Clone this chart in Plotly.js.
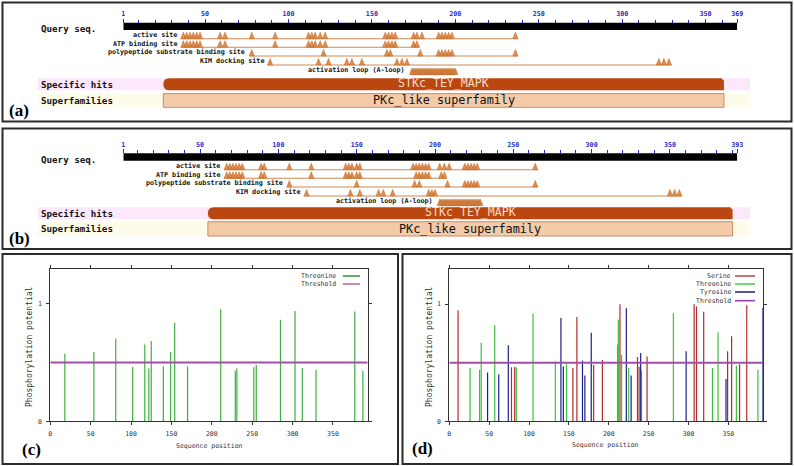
<!DOCTYPE html>
<html><head><meta charset="utf-8">
<script src="https://cdn.plot.ly/plotly-3.0.1.min.js"></script>
<style>html,body{margin:0;padding:0;background:#fff;} #chart{width:794px;height:466px;}</style>
</head><body><div id="chart"></div>
<script>
// ================= DATA =================
// Panel (a) – conserved domain diagram, 369 aa query
const seqLenA = 369;
const rulerLabelsA = [1, 50, 100, 150, 200, 250, 300, 350, 369];
const featureNames = ['active site', 'ATP binding site', 'polypeptide substrate binding site', 'KIM docking site', 'activation loop (A-loop)'];
const activeSiteA = [37, 39, 41, 43, 45, 47, 59, 62, 78, 92, 112, 114, 116, 119, 122, 158, 160, 162, 164, 175, 177, 180, 190, 192, 194, 196, 198, 236];
const atpSiteA = [37, 39, 41, 43, 45, 47, 59, 62, 92, 112, 114, 116, 119, 122, 158, 160, 162, 164, 175, 177];
const substrateSiteA = [78, 121, 159, 161, 179, 190, 192, 194, 196, 198, 236];
const kimSiteA = [89, 118, 124, 135, 138, 144, 165, 168, 171, 322, 325, 328];
const aLoopA = [174, 175, 176, 177, 178, 179, 180, 181, 182, 183, 184, 185, 186, 187, 188, 189, 190, 191, 192, 193, 194, 195, 196, 197, 198, 199, 200];
const specificHitA = [25, 361];
const superfamilyA = [25, 361];

// Panel (b) – conserved domain diagram, 393 aa query
const seqLenB = 393;
const rulerLabelsB = [1, 50, 100, 150, 200, 250, 300, 350, 393];
const activeSiteB = [67, 69, 71, 73, 75, 77, 89, 91, 107, 121, 143, 145, 147, 150, 152, 186, 188, 190, 192, 194, 196, 203, 206, 209, 219, 221, 223, 225, 227, 264];
const atpSiteB = [67, 69, 71, 73, 75, 77, 89, 91, 121, 143, 145, 147, 150, 152, 188, 190, 192, 194, 196, 204, 206];
const substrateSiteB = [107, 150, 187, 190, 208, 219, 221, 223, 225, 227, 264];
const kimSiteB = [118, 146, 152, 164, 167, 173, 196, 198, 200, 350, 353, 356];
const aLoopB = [203, 204, 205, 206, 207, 208, 209, 210, 211, 212, 213, 214, 215, 216, 217, 218, 219, 220, 221, 222, 223, 224, 225, 226, 227, 228, 229];
const specificHitB = [55, 390];
const superfamilyB = [55, 390];

const specificHitName = 'STKc_TEY_MAPK';
const superfamilyName = 'PKc_like superfamily';

// Panel (c) – NetPhos, threonine only
const seqLenC = 393;
const thresholdC = 0.5;
const thrPosC   = [18, 54, 81, 102, 117, 122, 125, 140, 149, 154, 170, 211, 229, 231, 252, 255, 285, 303, 312, 329, 377, 387];
const thrScoreC = [0.575, 0.59, 0.706, 0.464, 0.655, 0.45, 0.684, 0.47, 0.59, 0.84, 0.47, 0.954, 0.43, 0.45, 0.46, 0.48, 0.866, 0.94, 0.455, 0.44, 0.935, 0.43];

// Panel (d) – NetPhos, serine / threonine / tyrosine
const seqLenD = 393;
const thresholdD = 0.5;
const serPosD   = [11, 78, 82, 155, 160, 181, 192, 214, 236, 238, 248, 307, 310, 319, 349, 354, 364, 373];
const serScoreD = [0.948, 0.462, 0.465, 0.454, 0.89, 0.48, 0.523, 1.0, 0.548, 0.465, 0.554, 1.0, 0.98, 0.936, 0.597, 0.727, 0.488, 0.99];
const thrPosD   = [26, 38, 40, 57, 84, 105, 133, 147, 211, 212, 216, 225, 241, 281, 330, 337, 360, 387];
const thrScoreD = [0.454, 0.44, 0.669, 0.819, 0.459, 0.919, 0.511, 0.488, 0.655, 0.87, 0.569, 0.454, 0.434, 0.922, 0.454, 0.761, 0.477, 0.44];
const tyrPosD   = [48, 62, 74, 140, 143, 167, 170, 178, 222, 228, 240, 297, 347, 393];
const tyrScoreD = [0.416, 0.399, 0.649, 0.882, 0.468, 0.52, 0.39, 0.755, 0.965, 0.39, 0.583, 0.597, 0.362, 0.97];

// ================= LAYOUT HELPERS =================
const W = 794, H = 466;
const fx = p => p / W;
const fy = p => 1 - p / H;
const MONO = 'DejaVu Sans Mono';
const BLUE = '#2424c8';

const traces = [], shapes = [], annotations = [];

function paperText(text, x, y, opts) {
  annotations.push(Object.assign({
    xref: 'paper', yref: 'paper', x: fx(x), y: fy(y), text: text, showarrow: false,
    xanchor: 'left', yanchor: 'middle', font: {family: MONO, size: 9, color: '#111'}
  }, opts || {}));
}

// ---------- domain diagrams ----------
const domX0 = 123.3, domX1 = 737.3;
function diagram(d) {
  const upp = (d.len - 1) / (domX1 - domX0);
  const hw = 2.6 * upp;
  shapes.push({type: 'rect', xref: 'paper', yref: 'paper', x0: fx(38), x1: fx(750), y0: fy(d.hitBand[0]), y1: fy(d.hitBand[1]), fillcolor: '#fde8fb', line: {width: 0}, layer: 'below'});
  shapes.push({type: 'rect', xref: 'paper', yref: 'paper', x0: fx(38), x1: fx(750), y0: fy(d.supBand[0]), y1: fy(d.supBand[1]), fillcolor: '#fefce9', line: {width: 0}, layer: 'below'});
  shapes.push({type: 'rect', xref: d.xa, yref: 'y', x0: 1, x1: d.len, y0: d.rulerY, y1: d.barBot, fillcolor: '#000', line: {width: 0}});
  paperText('<b>Query seq.</b>', 39, d.queryY, {font: {family: MONO, size: 9.2, color: '#111'}});
  d.rows.forEach((sites, i) => {
    const ty = d.rowY[i];
    const base = ty + (i === 4 ? 4.6 : 3.7);
    const lo = Math.min(...sites) - hw, hi = Math.max(...sites) + hw;
    if (i < 4) {
      traces.push({type: 'scatter', mode: 'lines', x: [lo, hi], y: [base, base], xaxis: d.xa, yaxis: 'y',
        line: {color: '#d08a55', width: 1.1}, hoverinfo: 'skip', showlegend: false});
    }
    const tx = [], tyy = [];
    sites.forEach(p => { tx.push(p - hw, p, p + hw, p - hw, null); tyy.push(base, base - 6.5, base, base, null); });
    traces.push({type: 'scatter', mode: 'lines', x: tx, y: tyy, xaxis: d.xa, yaxis: 'y', fill: 'toself',
      fillcolor: '#e08c4a', line: {color: '#c0682a', width: 0.5}, hoverinfo: 'skip', showlegend: false, connectgaps: false});
    annotations.push({xref: d.xa, yref: 'y', x: lo, y: ty, text: '<b>' + featureNames[i] + '</b>', showarrow: false,
      xanchor: 'right', yanchor: 'middle', xshift: -2, font: {family: MONO, size: 6.7, color: '#111'}});
  });
  const h0 = d.hit[0], h1 = d.hit[1];
  const yT = d.hitBand[0], yB = d.hitBand[1], yM = (yT + yB) / 2;
  const r = 6 * upp, c = 2.5 * upp;
  shapes.push({type: 'path', xref: d.xa, yref: 'y',
    path: `M${h0 + r},${yT} L${h1 - c},${yT} L${h1},${yT + 2.5} L${h1},${yB} L${h0 + r},${yB} Q${h0},${yB} ${h0},${yM} Q${h0},${yT} ${h0 + r},${yT} Z`,
    fillcolor: '#b9470f', line: {width: 0}});
  annotations.push({xref: d.xa, yref: 'y', x: (h0 + h1) / 2, y: yM, yshift: 1, text: specificHitName, showarrow: false,
    xanchor: 'center', yanchor: 'middle', font: {family: MONO, size: 11.6, color: '#f8dcc6'}});
  paperText('<b>Specific hits</b>', 39, yM, {font: {family: MONO, size: 9.2, color: '#111'}});
  const s0 = d.sup[0], s1 = d.sup[1];
  shapes.push({type: 'rect', xref: d.xa, yref: 'y', x0: s0, x1: s1, y0: d.supBand[0], y1: d.supBand[1],
    fillcolor: '#f3cba8', line: {color: '#d18a5e', width: 1}});
  annotations.push({xref: d.xa, yref: 'y', x: (s0 + s1) / 2, y: (d.supBand[0] + d.supBand[1]) / 2, text: superfamilyName, showarrow: false,
    xanchor: 'center', yanchor: 'middle', font: {family: MONO, size: 11.8, color: '#111'}});
  paperText('<b>Superfamilies</b>', 39, (d.supBand[0] + d.supBand[1]) / 2, {font: {family: MONO, size: 9.2, color: '#111'}});
}

function rulerAxis(len, labels, rulerY) {
  return {
    domain: [fx(domX0), fx(domX1)], range: [1, len], autorange: false, anchor: 'free', position: fy(rulerY), side: 'top',
    showgrid: false, zeroline: false, showline: false, fixedrange: true,
    ticks: 'outside', ticklen: 4, tickwidth: 1, tickcolor: BLUE,
    tickmode: 'array', tickvals: labels, ticktext: labels.map(String),
    tickfont: {family: MONO, size: 6.7, color: BLUE, weight: 'bold'},
    minor: {tickmode: 'linear', tick0: 0, dtick: 10, ticks: 'outside', ticklen: 3, tickwidth: 1, tickcolor: BLUE}
  };
}

diagram({xa: 'x', len: seqLenA, rulerY: 22.7, barBot: 30, queryY: 28.3,
  rows: [activeSiteA, atpSiteA, substrateSiteA, kimSiteA, aLoopA], rowY: [35, 43.5, 52.3, 61.3, 70],
  hit: specificHitA, sup: superfamilyA, hitBand: [78.3, 90.3], supBand: [93.6, 107.3]});
diagram({xa: 'x2', len: seqLenB, rulerY: 153.3, barBot: 160.7, queryY: 159,
  rows: [activeSiteB, atpSiteB, substrateSiteB, kimSiteB, aLoopB], rowY: [166, 174.5, 183.3, 192.3, 201],
  hit: specificHitB, sup: superfamilyB, hitBand: [207.3, 219.3], supBand: [221.7, 236]});

// ---------- phosphorylation plots ----------
function impulses(pos, score, xa, ya, color) {
  const x = [], y = [];
  pos.forEach((p, i) => { x.push(p, p, null); y.push(0, score[i], null); });
  traces.push({type: 'scatter', mode: 'lines', x, y, xaxis: xa, yaxis: ya, line: {color, width: 1.2},
    connectgaps: false, hoverinfo: 'skip', showlegend: false});
}
function thresholdLine(len, thr, xa, ya) {
  traces.push({type: 'scatter', mode: 'lines', x: [0, len], y: [thr, thr], xaxis: xa, yaxis: ya,
    line: {color: '#a24ea8', width: 2}, hoverinfo: 'skip', showlegend: false});
}
const GREEN_C = '#3fae3f', GREEN_D = '#3cc03c', RED = '#b32b2b', NAVY = '#1e1e86';

impulses(thrPosC, thrScoreC, 'x3', 'y3', GREEN_C);
thresholdLine(seqLenC, thresholdC, 'x3', 'y3');
impulses(thrPosD, thrScoreD, 'x4', 'y4', GREEN_D);
impulses(tyrPosD, tyrScoreD, 'x4', 'y4', NAVY);
impulses(serPosD, serScoreD, 'x4', 'y4', RED);
thresholdLine(seqLenD, thresholdD, 'x4', 'y4');

function phosX(x0, x1, len, ya) {
  return {domain: [fx(x0), fx(x1)], range: [0, len], autorange: false, anchor: ya,
    showgrid: false, zeroline: false, showline: true, linecolor: '#333', linewidth: 1, mirror: 'ticks',
    ticks: 'outside', ticklen: 3, tickcolor: '#333', tickmode: 'linear', tick0: 0, dtick: 50,
    tickfont: {family: MONO, size: 6.5, color: '#333'}, ticklabelstandoff: 3, fixedrange: true};
}
function phosY(yTop, yBot, xa) {
  return {domain: [fy(yBot), fy(yTop)], range: [0, 1.3], autorange: false, anchor: xa,
    showgrid: false, zeroline: false, showline: true, linecolor: '#333', linewidth: 1, mirror: 'ticks',
    ticks: 'outside', ticklen: 3, tickcolor: '#333', tickmode: 'array', tickvals: [0, 1], ticktext: ['0', '1'],
    tickfont: {family: MONO, size: 6.5, color: '#333'}, ticklabelstandoff: 3, fixedrange: true};
}

paperText('Sequence position', 209.3, 446, {xanchor: 'center', font: {family: MONO, size: 6.5, color: '#333'}});
paperText('Sequence position', 605, 445, {xanchor: 'center', font: {family: MONO, size: 6.5, color: '#333'}});
paperText('Phosphorylation potential', 29.3, 346.7, {xanchor: 'center', textangle: -90, font: {family: MONO, size: 8, color: '#333'}});
paperText('Phosphorylation potential', 429.3, 346.7, {xanchor: 'center', textangle: -90, font: {family: MONO, size: 8, color: '#333'}});

function legendEntry(label, xTextEnd, xl0, xl1, y, color, width) {
  paperText(label, xTextEnd, y, {xanchor: 'right', font: {family: MONO, size: 6.5, color: '#333'}});
  shapes.push({type: 'line', xref: 'paper', yref: 'paper', x0: fx(xl0), x1: fx(xl1), y0: fy(y), y1: fy(y), line: {color, width}});
}
legendEntry('Threonine', 337.7, 342.7, 360, 276, '#3a9e3a', 1.6);
legendEntry('Threshold', 337.7, 342.7, 360, 284, '#b070b4', 1.6);
legendEntry('Serine', 732.7, 735, 755, 276, '#b84c4c', 1.6);
legendEntry('Threonine', 732.7, 735, 755, 284, '#4fd04f', 1.6);
legendEntry('Tyrosine', 732.7, 735, 755, 292, '#2a2a80', 1.6);
legendEntry('Threshold', 732.7, 735, 755, 300.7, '#a040a8', 1.6);

function frame(x0, y0, x1, y1) {
  shapes.push({type: 'rect', xref: 'paper', yref: 'paper', x0: fx(x0), x1: fx(x1), y0: fy(y1), y1: fy(y0),
    line: {color: '#2b2b2b', width: 2}, fillcolor: 'rgba(0,0,0,0)'});
}
frame(2.5, 2.5, 791.5, 121.5);
frame(2.5, 128.5, 791.5, 249);
frame(2.5, 254, 398, 464);
frame(402.5, 254, 791.5, 464);
const letterFont = {family: 'Liberation Serif', size: 17, color: '#000'};
paperText('<b>(a)</b>', 7, 110, {font: letterFont});
paperText('<b>(b)</b>', 7, 238.5, {font: letterFont});
paperText('<b>(c)</b>', 20, 449, {font: letterFont});
paperText('<b>(d)</b>', 410, 448, {font: letterFont});

const layout = {
  width: W, height: H, margin: {l: 0, r: 0, t: 0, b: 0}, autosize: false,
  paper_bgcolor: '#fff', plot_bgcolor: 'rgba(0,0,0,0)', showlegend: false,
  xaxis: rulerAxis(seqLenA, rulerLabelsA, 22.7),
  xaxis2: rulerAxis(seqLenB, rulerLabelsB, 153.3),
  yaxis: {domain: [0, 1], range: [H, 0], autorange: false, visible: false, anchor: 'x', fixedrange: true},
  xaxis3: phosX(50.3, 367.7, seqLenC, 'y3'),
  yaxis3: phosY(268.7, 421.3, 'x3'),
  xaxis4: phosX(449.3, 762.7, seqLenD, 'y4'),
  yaxis4: phosY(269, 421.3, 'x4'),
  shapes, annotations
};
Plotly.newPlot('chart', traces, layout, {staticPlot: true, displayModeBar: false});
</script>
</body></html>
